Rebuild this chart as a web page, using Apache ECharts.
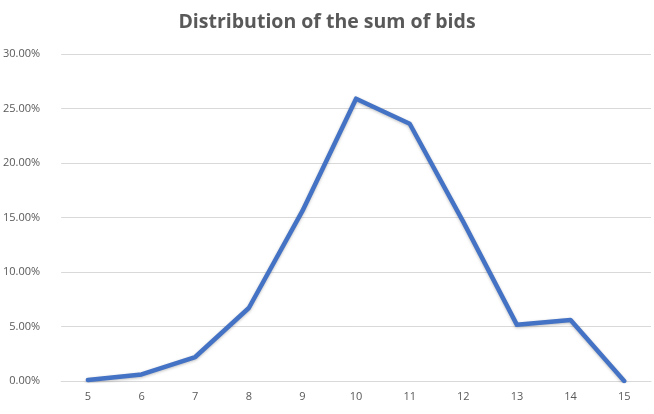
<!DOCTYPE html>
<html lang="en">
<head>
    <meta charset="UTF-8">
    <title>Distribution of the sum of bids</title>
    <style>
        html, body { margin: 0; padding: 0; background: #fff; }
        #chart { width: 654px; height: 414px; }
    </style>
    <script src="https://cdn.jsdelivr.net/npm/echarts@6/dist/echarts.min.js"></script>
</head>
<body>
<div id="chart"></div>
<script>
    // sum of bids
    var sums = ['5', '6', '7', '8', '9', '10', '11', '12', '13', '14', '15'];
    // share of outcomes, in %
    var shares = [0.1, 0.6, 2.2, 6.7, 15.6, 25.9, 23.6, 14.6, 5.15, 5.6, 0.0];
    var yTicks = [0, 5, 10, 15, 20, 25, 30];

    var chart = echarts.init(document.getElementById('chart'));
    var option = {
        animation: false,
        title: {
            text: 'Distribution of the sum of bids',
            left: 'center',
            top: 7,
            textStyle: {
                fontFamily: 'Open Sans',
                fontSize: 19.5,
                fontWeight: 'bold',
                color: '#595959'
            }
        },
        grid: { left: 60, right: 3, top: 54, bottom: 33, containLabel: false },
        xAxis: {
            type: 'category',
            data: sums,
            boundaryGap: true,
            axisLine: { lineStyle: { color: '#d9d9d9' } },
            axisTick: { show: false },
            axisLabel: {
                margin: 10,
                color: '#595959',
                fontFamily: 'Open Sans',
                fontSize: 11
            }
        },
        yAxis: {
            type: 'value',
            min: yTicks[0],
            max: yTicks[yTicks.length - 1],
            interval: 5,
            axisLine: { show: false },
            axisTick: { show: false },
            splitLine: { lineStyle: { color: '#d9d9d9' } },
            axisLabel: {
                margin: 21,
                color: '#595959',
                fontFamily: 'Open Sans',
                fontSize: 11,
                formatter: function (v) { return v.toFixed(2) + '%'; }
            }
        },
        series: [{
            type: 'line',
            data: shares,
            symbol: 'none',
            lineStyle: {
                width: 4.5,
                color: '#4472c4',
                cap: 'round',
                join: 'round',
                shadowColor: 'rgba(0,0,0,0.25)',
                shadowBlur: 3,
                shadowOffsetY: 1
            }
        }]
    };
    chart.setOption(option);
</script>
</body>
</html>
